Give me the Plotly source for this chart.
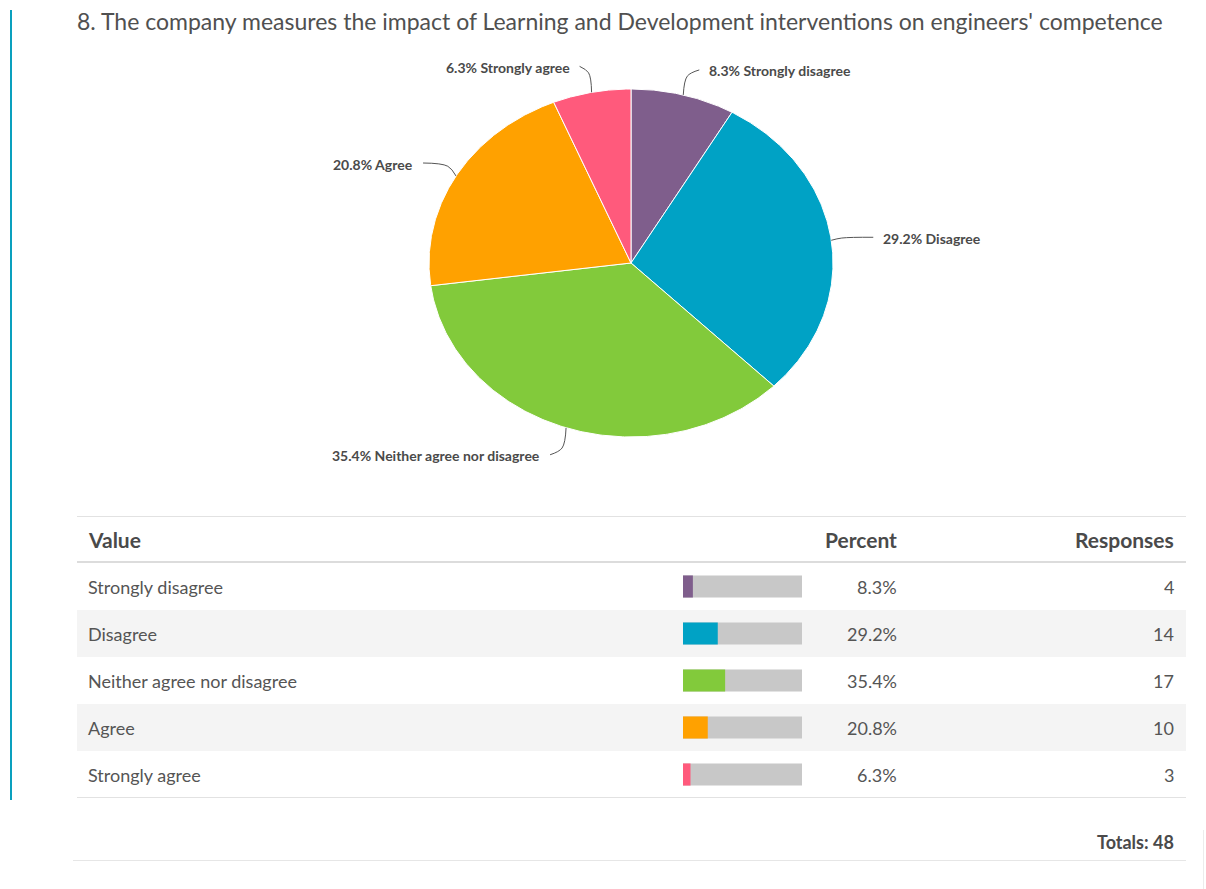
import numpy as np
import plotly.graph_objects as go

# Survey answers for question 8
categories = ["Strongly disagree", "Disagree", "Neither agree nor disagree", "Agree", "Strongly agree"]
responses = [4, 14, 17, 10, 3]
percents = [8.3, 29.2, 35.4, 20.8, 6.3]
colors = ["#7f5e8c", "#00a2c5", "#82ca3b", "#ffa100", "#ff5a7c"]
title_text = "8. The company measures the impact of Learning and Development interventions on engineers' competence"
total = sum(responses)

W, H = 1206, 889
# Pie geometry (pixel units on the canvas axes)
CX, CY, RX, RY = 631, 263, 202, 174
# Label connector offsets (dx, dy) from the slice edge, and text side
label_offsets = [(16, -25, "left"), (42, -3, "left"), (-16, 27, "right"), (-33, -13, "right"), (-12, -26, "right")]

TEXT = "#4a4a4a"
FONT = "Lato"

fig = go.Figure()

# Pie slices drawn as filled polygons, clockwise from 12 o'clock
fractions = np.array(responses) / total
starts = np.concatenate([[0], np.cumsum(fractions)[:-1]])
annotations = []
for cat, frac, s, col, pct, (dx, dy, side) in zip(categories, fractions, starts, colors, percents, label_offsets):
    th = np.linspace(s, s + frac, 200) * 2 * np.pi
    xs = np.concatenate([[CX], CX + RX * np.sin(th), [CX]])
    ys = np.concatenate([[CY], CY - RY * np.cos(th), [CY]])
    fig.add_trace(go.Scatter(x=xs, y=ys, mode="lines", fill="toself", fillcolor=col,
                             line=dict(color="white", width=1), hoverinfo="skip", showlegend=False,
                             xaxis="x", yaxis="y"))
    mid = (s + frac / 2) * 2 * np.pi
    ex, ey = CX + RX * np.sin(mid), CY - RY * np.cos(mid)
    lx, ly = ex + dx, ey + dy
    bx = ex + dx * 0.25
    by = ey + dy * 0.75
    fig.add_trace(go.Scatter(x=[ex, bx, lx], y=[ey, by, ly], mode="lines",
                             line=dict(color="#555555", width=1, shape="spline"),
                             hoverinfo="skip", showlegend=False, xaxis="x", yaxis="y"))
    tx = lx + (8 if side == "left" else -8)
    annotations.append(dict(x=tx, y=ly + 1, xref="x", yref="y", text=f"<b>{pct}% {cat}</b>",
                            showarrow=False, xanchor=side, yanchor="middle",
                            font=dict(family=FONT, size=14, color=TEXT)))

# Table geometry
TL, TR = 77, 1186
ROW_TOP, ROW_H = 563, 47
BAR_L, BAR_R = 683, 802
PCT_X, RESP_X, LABEL_X = 899, 1176, 86

shapes = []
# Left accent rule
shapes.append(dict(type="line", xref="x", yref="y", x0=11, x1=11, y0=10, y1=800,
                   line=dict(color="#0aa0be", width=2)))
# Table frame lines
shapes.append(dict(type="line", xref="x", yref="y", x0=TL, x1=TR, y0=516.5, y1=516.5,
                   line=dict(color="#e2e2e2", width=1)))
shapes.append(dict(type="line", xref="x", yref="y", x0=TL, x1=TR, y0=562, y1=562,
                   line=dict(color="#dcdcdc", width=2)))
for i in range(len(categories)):
    y0 = ROW_TOP + i * ROW_H
    if i % 2 == 1:
        shapes.append(dict(type="rect", xref="x", yref="y", x0=TL, x1=TR, y0=y0, y1=y0 + ROW_H,
                           fillcolor="#f4f4f4", line=dict(width=0), layer="below"))
shapes.append(dict(type="line", xref="x", yref="y", x0=TL, x1=TR, y0=797.5, y1=797.5,
                   line=dict(color="#e2e2e2", width=1)))
shapes.append(dict(type="line", xref="x", yref="y", x0=73, x1=TR, y0=860.5, y1=860.5,
                   line=dict(color="#e6e6e6", width=1)))
shapes.append(dict(type="line", xref="x", yref="y", x0=1203.5, x1=1203.5, y0=830, y1=889,
                   line=dict(color="#ececec", width=1)))

# Header texts
hdr_y = 539
HDR = dict(family=FONT, size=21, color=TEXT)
annotations.append(dict(x=LABEL_X, y=hdr_y, xref="x", yref="y", text="<b>Value</b>", showarrow=False,
                        xanchor="left", yanchor="middle", font=HDR))
annotations.append(dict(x=PCT_X, y=hdr_y, xref="x", yref="y", text="<b>Percent</b>", showarrow=False,
                        xanchor="right", yanchor="middle", font=HDR))
annotations.append(dict(x=RESP_X, y=hdr_y, xref="x", yref="y", text="<b>Responses</b>", showarrow=False,
                        xanchor="right", yanchor="middle", font=HDR))

CELL = dict(family=FONT, size=18, color="#555555")
for i, (cat, pct, n) in enumerate(zip(categories, percents, responses)):
    yc = ROW_TOP + i * ROW_H + ROW_H / 2
    annotations.append(dict(x=LABEL_X, y=yc, xref="x", yref="y", text=cat, showarrow=False,
                            xanchor="left", yanchor="middle", font=CELL))
    annotations.append(dict(x=PCT_X, y=yc, xref="x", yref="y", text=f"{pct}%", showarrow=False,
                            xanchor="right", yanchor="middle", font=CELL))
    annotations.append(dict(x=RESP_X, y=yc, xref="x", yref="y", text=str(n), showarrow=False,
                            xanchor="right", yanchor="middle", font=CELL))

annotations.append(dict(x=RESP_X, y=842, xref="x", yref="y", text=f"<b>Totals: {total}</b>", showarrow=False,
                        xanchor="right", yanchor="middle", font=dict(family=FONT, size=18, color=TEXT)))
annotations.append(dict(x=75, y=21, xref="x", yref="y", text=title_text, showarrow=False,
                        xanchor="left", yanchor="middle", font=dict(family=FONT, size=23, color="#505050")))

# Mini percentage bars inside the table
fig.add_trace(go.Bar(x=[100] * len(categories), y=categories, orientation="h", marker=dict(color="#c8c8c8", line=dict(width=0)),
                     width=0.47, hoverinfo="skip", showlegend=False, xaxis="x2", yaxis="y2"))
fig.add_trace(go.Bar(x=percents, y=categories, orientation="h", marker=dict(color=colors, line=dict(width=0)),
                     width=0.47, hoverinfo="skip", showlegend=False, xaxis="x2", yaxis="y2"))

tbl_bottom = ROW_TOP + ROW_H * len(categories)
fig.update_layout(
    width=W, height=H, margin=dict(l=0, r=0, t=0, b=0),
    paper_bgcolor="white", plot_bgcolor="rgba(0,0,0,0)",
    barmode="overlay",
    xaxis=dict(range=[0, W], domain=[0, 1], visible=False, fixedrange=True),
    yaxis=dict(range=[H, 0], domain=[0, 1], visible=False, fixedrange=True),
    xaxis2=dict(range=[0, 100], domain=[BAR_L / W, BAR_R / W], visible=False, anchor="y2"),
    yaxis2=dict(domain=[(H - tbl_bottom) / H, (H - ROW_TOP) / H], visible=False, anchor="x2",
                categoryorder="array", categoryarray=categories[::-1], range=[-0.5, len(categories) - 0.5]),
    shapes=shapes, annotations=annotations,
)

fig.write_html("out.html")
